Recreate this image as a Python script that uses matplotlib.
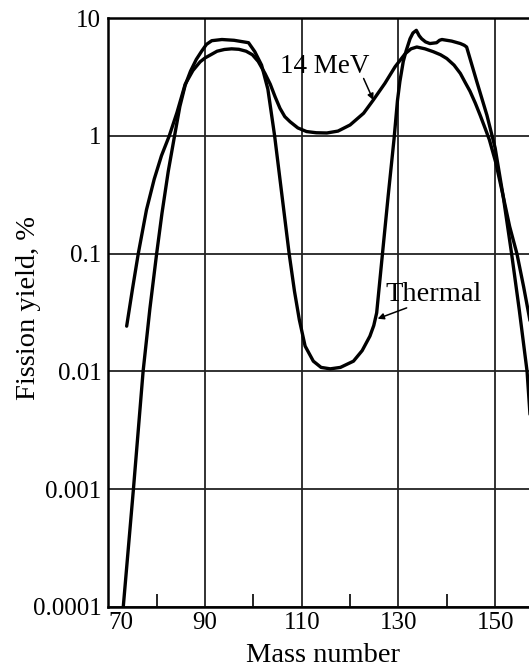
import matplotlib
matplotlib.use("Agg")
import matplotlib.pyplot as plt
from matplotlib.ticker import FixedLocator, NullLocator

plt.rcParams['font.family'] = ['Liberation Serif', 'DejaVu Serif']

# ---- data ----
thermal_mass = [73.1, 75.2, 77.2, 78.6, 80.0, 81.1, 82.4, 83.7, 84.8, 85.9, 87.0,
                88.2, 89.3, 90.3, 91.4, 93.5, 96.0, 98.0, 99.0, 100.3, 101.7,
                103.0, 104.4, 105.9, 107.4, 108.5, 109.5, 110.7, 112.4, 114.0,
                115.9, 118.0, 120.7, 122.5, 124.1, 124.9, 125.5, 126.7, 127.9,
                129.1, 129.8, 130.3, 131.0, 131.6, 132.4, 133.0, 133.7, 134.3,
                134.8, 135.6, 136.5, 137.9, 138.5, 139.0, 141.0, 142.8, 143.6,
                144.1, 144.8, 146.2, 148.3, 150.0, 151.7, 153.4, 155.0, 156.6, 157.6]
thermal_yield = [0.0001, 0.001, 0.01, 0.034, 0.1, 0.22, 0.5, 1.0, 1.78, 2.7, 3.55,
                 4.47, 5.25, 6.0, 6.45, 6.6, 6.5, 6.3, 6.2, 5.2, 4.0,
                 2.5, 1.0, 0.316, 0.1, 0.048, 0.0275, 0.0164, 0.0122, 0.0108,
                 0.0105, 0.0108, 0.0122, 0.015, 0.0199, 0.0245, 0.0314, 0.1, 0.316,
                 0.95, 2.0, 2.9, 4.3, 5.3, 6.7, 7.5, 7.9, 7.1,
                 6.7, 6.3, 6.1, 6.2, 6.5, 6.6, 6.4, 6.1, 5.9,
                 5.7, 4.55, 2.9, 1.5, 0.79, 0.3, 0.1, 0.033, 0.01, 0.0025]

mev14_mass = [73.8, 75.0, 76.2, 77.9, 79.5, 81.0, 82.6, 84.2, 85.9, 87.5, 89.0,
              90.0, 91.2, 92.5, 94.0, 95.5, 97.0, 98.5, 99.8, 101.0, 102.4,
              103.5, 104.5, 105.5, 106.5, 107.6, 109.2, 111.0, 113.0, 115.2,
              117.5, 120.0, 122.8, 124.8, 127.2, 129.3, 131.4, 132.6, 133.8,
              135.5, 137.2, 138.7, 140.0, 141.5, 142.8, 143.8, 144.8, 145.9,
              146.9, 147.9, 148.8, 150.1, 151.5, 153.0, 154.5, 155.9, 157.2]
mev14_yield = [0.0242, 0.05, 0.1, 0.236, 0.43, 0.68, 1.0, 1.58, 2.75, 3.6, 4.27,
               4.6, 4.9, 5.25, 5.43, 5.5, 5.45, 5.25, 4.9, 4.3, 3.4,
               2.75, 2.15, 1.72, 1.46, 1.32, 1.17, 1.09, 1.065, 1.06,
               1.1, 1.24, 1.56, 2.02, 2.8, 3.87, 5.0, 5.5, 5.7,
               5.5, 5.2, 4.9, 4.55, 4.0, 3.4, 2.85, 2.4, 1.9,
               1.5, 1.17, 0.93, 0.6, 0.33, 0.17, 0.1, 0.052, 0.027]

x_ticks = [70, 90, 110, 130, 150]
x_minor = [80, 100, 120, 140]
y_ticks = [0.0001, 0.001, 0.01, 0.1, 1, 10]
y_labels = ['0.0001', '0.001', '0.01', '0.1', '1', '10']

# ---- figure ----
fig = plt.figure(figsize=(5.29, 6.67), dpi=100)
ax = fig.add_axes([0.2047, 0.0904, 0.7953, 0.8822])

ax.set_yscale('log')
ax.set_xlim(70, 157.0)
ax.set_ylim(1e-4, 10)

line_kw = dict(color='black', lw=2.4, solid_joinstyle='round',
               solid_capstyle='round', zorder=3)
ax.plot(thermal_mass, thermal_yield, **line_kw)
ax.plot(mev14_mass, mev14_yield, **line_kw)

ax.xaxis.set_major_locator(FixedLocator(x_ticks))
ax.xaxis.set_minor_locator(FixedLocator(x_minor))
ax.set_xticklabels([str(v) for v in x_ticks])
ax.yaxis.set_major_locator(FixedLocator(y_ticks))
ax.yaxis.set_minor_locator(NullLocator())
ax.set_yticklabels(y_labels)

ax.tick_params(axis='x', which='major', length=0, pad=4, labelsize=18)
ax.tick_params(axis='x', which='minor', direction='in', length=9.5, width=1.2,
               bottom=True, top=False)
ax.tick_params(axis='y', which='major', length=0, pad=5, labelsize=18)
lbls = ax.get_xticklabels()
lbls[0].set_horizontalalignment('left')

ax.grid(True, which='major', color='#222222', lw=1.3)
ax.set_axisbelow(True)
for s in ['left', 'bottom', 'top']:
    ax.spines[s].set_linewidth(1.8)
    ax.spines[s].set_color('black')
ax.spines['right'].set_visible(False)

ax.set_xlabel('Mass number', fontsize=20.5)
ax.xaxis.set_label_coords(0.51, -0.062)
ax.set_ylabel('Fission yield, %', fontsize=20.5)
ax.yaxis.set_label_coords(-0.16, 0.508)

ax.text(105.5, 3.46, '14 MeV', fontsize=19.5, ha='left', va='baseline', zorder=4)
ax.annotate('', xy=(124.8, 2.02), xytext=(122.8, 3.08),
            arrowprops=dict(arrowstyle='-|>', lw=1.1, color='black',
                            mutation_scale=9, shrinkA=0, shrinkB=0))
ax.text(127.25, 0.0394, 'Thermal', fontsize=20.5, ha='left', va='baseline', zorder=4)
ax.annotate('', xy=(125.7, 0.028), xytext=(131.7, 0.0346),
            arrowprops=dict(arrowstyle='-|>', lw=1.1, color='black',
                            mutation_scale=9, shrinkA=0, shrinkB=0))

fig.savefig('out.png', dpi=100)
